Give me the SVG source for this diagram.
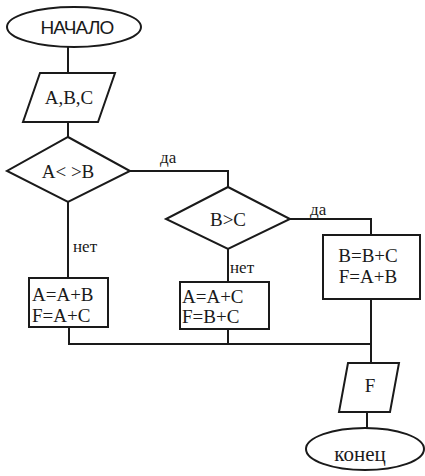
<svg xmlns="http://www.w3.org/2000/svg" width="425" height="476" viewBox="0 0 425 476">
<style>
.s{fill:#fff;stroke:#1a1a1a;stroke-width:2}
.c{fill:none;stroke:#1a1a1a;stroke-width:2}
.t{font-family:"Liberation Serif",serif;font-size:19px;fill:#1a1a1a}
.m{text-anchor:middle}
.l{font-family:"Liberation Serif",serif;font-size:17px;fill:#1a1a1a}
</style>
<rect width="425" height="476" fill="#fff"/>
<g id="connectors">
<path class="c" d="M68,47 V73"/>
<path class="c" d="M68,122 V137"/>
<path class="c" d="M130,171 H228 V187"/>
<path class="c" d="M68,202 V278"/>
<path class="c" d="M290,219 H371 V235"/>
<path class="c" d="M228,249 V282"/>
<path class="c" d="M69,327 V344 H371"/>
<path class="c" d="M228,329 V344"/>
<path class="c" d="M371,299 V363"/>
<path class="c" d="M367,412 V428"/>
</g>
<g id="start"><ellipse class="s" cx="74" cy="27" rx="67" ry="20"/><text class="m" x="77" y="34" style="font-family:'Liberation Sans',sans-serif;font-size:19px;letter-spacing:-0.8px;fill:#1a1a1a">НАЧАЛО</text></g>
<g id="input"><polygon class="s" points="40,73 115,73 98,122 23,122"/><text class="t m" x="69" y="104">A,B,C</text></g>
<g id="cond1"><polygon class="s" points="68,137 130,171 68,202 7,171"/><text class="t m" x="68" y="178">A&lt; &gt;B</text></g>
<text class="l" x="160" y="163">да</text>
<text class="l" x="73" y="252">нет</text>
<g id="cond2"><polygon class="s" points="228,187 290,219 228,249 166,219"/><text class="t m" x="228" y="226">B&gt;C</text></g>
<text class="l" x="310" y="215">да</text>
<text class="l" x="230" y="273">нет</text>
<g id="box1"><rect class="s" x="29" y="278" width="79" height="49"/><text class="t" x="32" y="301">A=A+B</text><text class="t" x="32" y="322">F=A+C</text></g>
<g id="box2"><rect class="s" x="180" y="282" width="89" height="47"/><text class="t" x="182" y="303">A=A+C</text><text class="t" x="182" y="323">F=B+C</text></g>
<g id="box3"><rect class="s" x="323" y="235" width="97" height="64"/><text class="t m" x="368" y="262">B=B+C</text><text class="t m" x="368" y="283">F=A+B</text></g>
<g id="output"><polygon class="s" points="348,363 399,363 390,412 339,412"/><text class="t m" x="370" y="392">F</text></g>
<g id="end"><ellipse class="s" cx="365" cy="449" rx="59" ry="21"/><text class="t m" x="360" y="461" style="font-size:21px">конец</text></g>
</svg>
